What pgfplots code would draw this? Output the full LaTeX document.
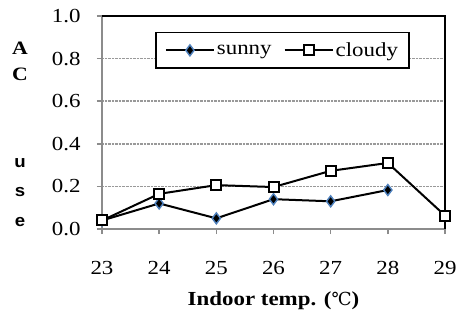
\documentclass[border=0pt]{standalone}
\usepackage{fontspec}
\setmainfont{Liberation Serif}[FakeStretch=1.15]
\newfontfamily\lsans{Liberation Sans}[FakeStretch=1.1]
\newfontfamily\dejavu{DejaVu Serif}
\usepackage{pgfplots}
\pgfplotsset{compat=1.18}
\usetikzlibrary{calc}
\definecolor{mblue}{RGB}{79,129,189}
\begin{document}
\begin{tikzpicture}[x=1bp,y=1bp]
\begin{axis}[
  at={(0,0)}, anchor=south west,
  scale only axis, width=343bp, height=213bp,
  xmin=23, xmax=29, ymin=0, ymax=1,
  xtick={23,...,29}, ytick={0,0.2,...,1.0},
  tick align=outside, xtick pos=bottom, ytick pos=left,
  major tick length=5bp,
  tick style={draw=gray!90, line width=1.4bp},
  axis line style={draw=gray!90, line width=2bp},
  ymajorgrids, grid style={densely dotted, draw=gray!80, line width=1.4bp},
  /pgf/number format/assume math mode=true,
  yticklabel style={/pgf/number format/fixed,/pgf/number format/fixed zerofill,/pgf/number format/precision=1, xshift=-13bp},
  xticklabel style={yshift=-24bp},
  ticklabel style={font=\fontsize{20}{22}\selectfont},
  xlabel={\textbf{Indoor temp. (}{\dejavu\fontsize{18}{20}\selectfont ℃}\textbf{)}},
  xlabel style={font=\fontsize{20}{22}\selectfont, yshift=-10bp},
  legend style={at={(0.155,0.925)}, anchor=north west, draw=black, line width=1.5bp,
    font=\fontsize{20}{22}\selectfont, inner ysep=8bp, inner xsep=9bp,
    /tikz/every even column/.append style={column sep=10bp}},
  legend columns=2,
  legend image code/.code={\draw[#1] (0bp,0bp) -- (24bp,0bp) plot coordinates {(24bp,0bp)} -- (48bp,0bp);},
  clip=false,
]
\addplot[black, line width=2bp, mark=diamond*, mark size=5.5bp,
  mark options={fill=black, draw=mblue, line width=1.4bp}]
  coordinates {(23,0.04) (24,0.12) (25,0.05) (26,0.14) (27,0.13) (28,0.183)};
\addlegendentry{sunny}
\addplot[black, line width=2bp, mark=square*, mark size=5bp,
  mark options={fill=white, draw=black, line width=2bp}]
  coordinates {(23,0.04) (24,0.165) (25,0.206) (26,0.197) (27,0.273) (28,0.31) (29,0.063)};
\addlegendentry{cloudy}
\draw[black, line width=1.6bp] (rel axis cs:0,1) -- (rel axis cs:1,1) -- (rel axis cs:1,0);
\node[font=\fontsize{19}{20}\selectfont\bfseries] at (axis description cs:-0.239,0.85) {A};
\node[font=\fontsize{19}{20}\selectfont\bfseries] at (axis description cs:-0.239,0.725) {C};
\node[font=\lsans\fontsize{17}{20}\selectfont\bfseries] at (axis description cs:-0.239,0.31) {u};
\node[font=\lsans\fontsize{17}{20}\selectfont\bfseries] at (axis description cs:-0.239,0.174) {s};
\node[font=\lsans\fontsize{17}{20}\selectfont\bfseries] at (axis description cs:-0.239,0.033) {e};
\end{axis}
\path[use as bounding box] (-102bp,-101bp) rectangle (365bp,229bp);
\end{tikzpicture}
\end{document}
